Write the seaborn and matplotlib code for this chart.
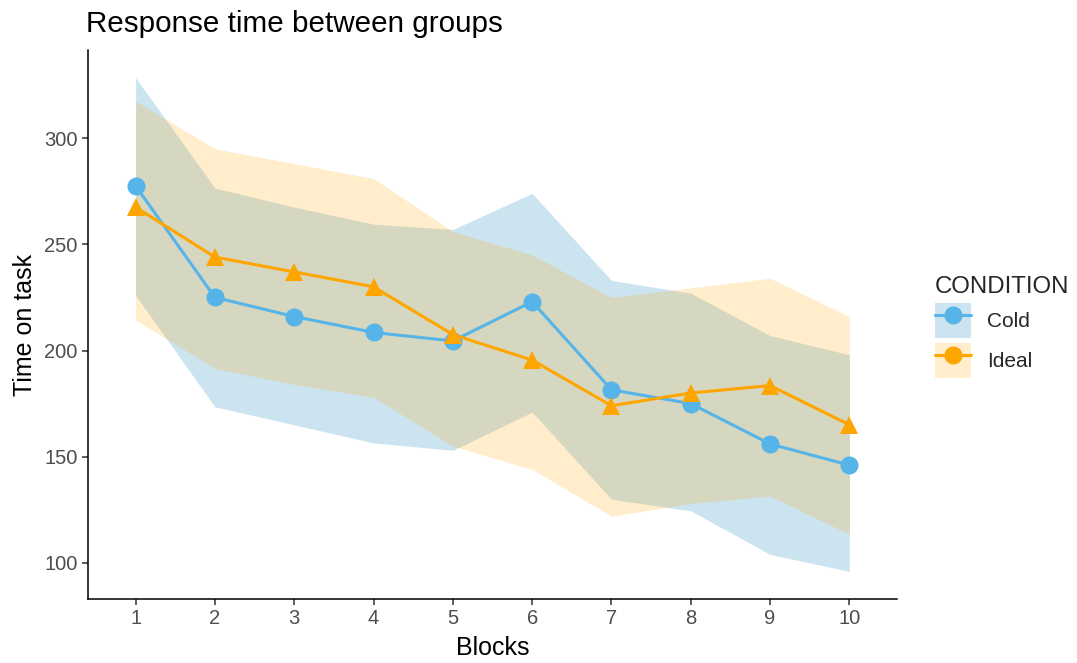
import numpy as np
import pandas as pd
import matplotlib
matplotlib.use('Agg')
import matplotlib.pyplot as plt
from matplotlib.patches import Patch
from matplotlib.lines import Line2D
import seaborn as sns

blocks = [1, 2, 3, 4, 5, 6, 7, 8, 9, 10]
conditions = ['Cold', 'Ideal']

cold_mean = [277.5, 225, 216, 208.5, 204.5, 223, 181.5, 175, 156, 146]
cold_lower = [226, 173.5, 165, 156.5, 153, 171, 130, 124.5, 104, 96]
cold_upper = [328.5, 276.5, 267.5, 259.5, 257, 274, 233, 227, 207, 198]

ideal_mean = [267.5, 244, 237, 230, 207.5, 195.5, 174, 180, 183.5, 165]
ideal_lower = [214.5, 191.5, 184, 178, 155, 144, 122, 128, 131.5, 113.5]
ideal_upper = [317.5, 295, 288, 281, 256, 245, 225, 229.5, 234, 216]

line_colors = {'Cold': '#56B4E9', 'Ideal': '#FFA500'}
band_colors = {'Cold': '#CCE4F0', 'Ideal': '#FFA500'}
band_alpha = {'Cold': 1.0, 'Ideal': 0.2}

df = pd.DataFrame({
    'Blocks': blocks * 2,
    'Time': cold_mean + ideal_mean,
    'lower': cold_lower + ideal_lower,
    'upper': cold_upper + ideal_upper,
    'CONDITION': ['Cold'] * 10 + ['Ideal'] * 10,
})

sns.set_style('white')
plt.rcParams['font.family'] = ['Liberation Sans', 'DejaVu Sans']

fig = plt.figure(figsize=(10.77, 6.63), dpi=100)
ax = fig.add_axes([88 / 1077, 1 - 599 / 663, (897 - 88) / 1077, (599 - 50) / 663])

# ribbons first
for cond in conditions:
    sub = df[df['CONDITION'] == cond]
    ax.fill_between(sub['Blocks'], sub['lower'], sub['upper'],
                    color=band_colors[cond], alpha=band_alpha[cond], lw=0, zorder=1)

sns.lineplot(data=df, x='Blocks', y='Time', hue='CONDITION', style='CONDITION',
             hue_order=conditions, style_order=conditions,
             palette=line_colors, markers={'Cold': 'o', 'Ideal': '^'},
             dashes=False, lw=2.2, markersize=13, markeredgewidth=0,
             legend=False, ax=ax, zorder=3)

ax.set_xlim(0.4, 10.6)
ax.set_ylim(83, 341.5)
ax.set_xticks(blocks)
ax.set_yticks([100, 150, 200, 250, 300])
ax.set_xlabel('Blocks', fontsize=18, color='black', labelpad=6)
ax.set_ylabel('Time on task', fontsize=18, color='black', labelpad=5)
ax.tick_params(axis='both', which='both', direction='out', length=4.3, width=1.1,
               color='#333333', labelsize=14.5, labelcolor='#4D4D4D', pad=3,
               bottom=True, left=True)

for side in ['top', 'right']:
    ax.spines[side].set_visible(False)
for side in ['left', 'bottom']:
    ax.spines[side].set_color('black')
    ax.spines[side].set_linewidth(1.1)

fig.text(86 / 1077, 1 - 32 / 663, 'Response time between groups',
         fontsize=21.3, color='black', va='baseline', ha='left')

handles = []
for cond in conditions:
    patch = Patch(facecolor=band_colors[cond], alpha=band_alpha[cond] if cond == 'Ideal' else 1.0,
                  edgecolor='none')
    line = Line2D([], [], color=line_colors[cond], lw=2.2, marker='o',
                  markersize=13, markeredgewidth=0)
    handles.append((patch, line))

leg = fig.legend(handles, conditions, title='CONDITION', loc='upper left',
                 bbox_to_anchor=(935 / 1077, 1 - 276 / 663), frameon=False,
                 fontsize=15, title_fontsize=17.3, handlelength=1.75, handleheight=2.2,
                 labelspacing=0.25, handletextpad=0.75, borderpad=0, borderaxespad=0,
                 alignment='left')

fig.savefig('out.png', dpi=100)
